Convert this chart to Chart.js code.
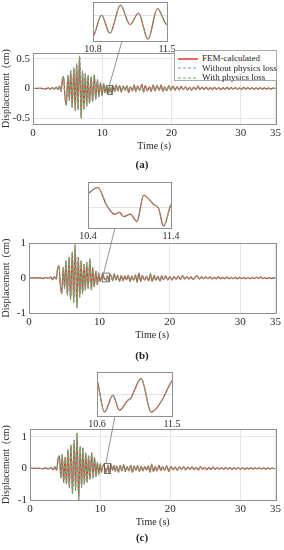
<!DOCTYPE html>
<html>
<head>
<meta charset="utf-8">
<script src="https://cdn.jsdelivr.net/npm/chart.js@4.4.1/dist/chart.umd.min.js"></script>
<style>
  body { margin: 0; width: 284px; height: 550px; position: relative; background: #fff; overflow: hidden; font-family: "Liberation Serif", serif; }
  canvas { position: absolute; }
  .cap { position: absolute; left: 0; width: 284px; text-align: center; font-weight: bold; font-size: 11px; color: #222; line-height: 12px; }
  #legend { position: absolute; left: 174px; top: 50px; width: 103px; height: 31px; border: 1px solid #aaa; background: #fff; font-size: 9px; color: #222; }
  #legend div { height: 9.5px; line-height: 9.5px; white-space: nowrap; }
  #legend svg { vertical-align: middle; margin: 0 4px 0 3px; }
</style>
</head>
<body>
<canvas id="mainA" width="284" height="550"></canvas>
<canvas id="mainB" width="284" height="550"></canvas>
<canvas id="mainC" width="284" height="550"></canvas>
<canvas id="zoomA"></canvas>
<canvas id="zoomB"></canvas>
<canvas id="zoomC"></canvas>
<div id="legend"></div>
<div class="cap" style="top:158px">(a)</div>
<div class="cap" style="top:349px">(b)</div>
<div class="cap" style="top:531px">(c)</div>
<script>
// Données (temps s, déplacement cm)
const femA = [
  [0,0],[1.2,0.003],[1.8,-0.005],[2.2,0.01],[2.5,-0.012],[2.8,0.015],[3.1,-0.01],[3.35,0.025],[3.6,-0.02],[3.85,0.04],[4.05,-0.05],
  [4.25,0.16],[4.4,0.2],[4.6,-0.12],[4.8,-0.28],[5.05,0.22],[5.25,-0.2],[5.45,0.3],[5.65,-0.32],[5.9,0.35],[6.1,-0.38],[6.3,0.42],
  [6.5,-0.36],[6.72,0.55],[6.95,-0.5],[7.15,0.3],[7.35,-0.35],[7.55,0.25],[7.75,-0.3],[7.95,0.22],[8.15,-0.25],[8.4,0.2],[8.6,-0.22],
  [8.85,0.23],[9.05,-0.18],[9.3,0.15],[9.5,-0.14],[9.75,0.1],[9.95,-0.12],[10.2,0.08],[10.4,-0.07],[10.6,0.05],
  [10.76,-0.095],[10.81,-0.076],[10.88,-0.001],[10.96,-0.07],[11.06,0.038],[11.15,-0.037],[11.23,0.007],[11.32,-0.093],[11.41,0.025],[11.5,-0.037],
  [11.6,0.04],[11.8,-0.05],[12.0,0.06],[12.25,-0.04],[12.5,0.05],[12.75,-0.06],[13.0,0.04],[13.3,-0.03],[13.55,0.05],[13.8,-0.07],
  [14.05,0.03],[14.35,-0.04],[14.6,0.06],[14.85,-0.05],[15.1,0.04],[15.4,-0.03],[15.7,0.07],[15.95,-0.06],[16.2,0.05],[16.5,-0.04],
  [16.8,0.03],[17.05,-0.05],[17.35,0.06],[17.6,-0.04],[17.9,0.05],[18.2,-0.03],[18.5,0.06],[18.75,-0.05],[19.0,0.03],[19.3,-0.04],
  [19.6,0.05],[19.9,-0.03],[20.2,0.04],[20.5,-0.03],[20.8,0.03],[21.1,-0.025],[21.4,0.035],[21.7,-0.02],[22.0,0.03],[22.3,-0.025],
  [22.6,0.02],[22.9,-0.03],[23.2,0.025],[23.5,-0.02],[23.8,0.04],[24.1,-0.02],[24.4,0.02],[24.7,-0.015],[25.0,0.02],[25.3,-0.02],
  [25.6,0.015],[25.9,-0.02],[26.2,0.02],[26.5,-0.015],[26.8,0.015],[27.1,-0.02],[27.4,0.015],[27.7,-0.015],[28.0,0.02],[28.3,-0.015],
  [28.6,0.015],[28.9,-0.01],[29.2,0.015],[29.5,-0.015],[29.8,0.01],[30.1,-0.015],[30.4,0.02],[30.7,-0.015],[31.0,0.015],[31.3,-0.01],
  [31.6,0.015],[31.9,-0.015],[32.2,0.01],[32.5,-0.01],[32.8,0.015],[33.1,-0.01],[33.4,0.01],[33.7,-0.01],[34.0,0.01],[34.3,-0.01],
  [34.6,0.005],[35,0]
];
const femB = [
  [0,0],[1.5,0.005],[2.0,-0.01],[2.4,0.015],[2.8,-0.01],[3.1,0.03],[3.35,-0.05],[3.6,0.04],[3.85,-0.03],[4.05,0.25],[4.25,0.35],
  [4.45,-0.2],[4.65,-0.45],[4.85,0.3],[5.05,-0.3],[5.25,0.5],[5.45,-0.5],[5.7,0.6],[5.9,-0.62],[6.15,0.75],[6.35,-0.7],[6.55,0.95],
  [6.8,-0.85],[7.0,0.6],[7.2,-0.55],[7.4,0.5],[7.6,-0.45],[7.8,0.4],[8.0,-0.35],[8.2,0.45],[8.4,-0.3],[8.65,0.55],[8.85,-0.35],
  [9.05,0.3],[9.25,-0.25],[9.5,0.2],[9.7,-0.2],[9.9,0.15],[10.1,-0.1],[10.3,0.03],
  [10.41,0.08],[10.52,0.11],[10.62,0.018],[10.72,-0.035],[10.78,-0.025],[10.83,-0.048],[10.91,-0.035],[10.99,-0.075],[11.07,0.068],
  [11.19,0.018],[11.25,-0.003],[11.31,-0.1],[11.4,0.018],
  [11.6,0.1],[11.85,-0.08],[12.1,0.12],[12.35,-0.06],[12.6,0.08],[12.85,-0.1],[13.1,0.07],[13.35,-0.08],[13.6,0.06],[13.85,-0.05],
  [14.1,0.08],[14.35,-0.1],[14.6,0.06],[14.85,-0.07],[15.1,0.09],[15.35,-0.12],[15.6,0.14],[15.85,-0.1],[16.1,0.07],[16.4,-0.06],
  [16.7,0.05],[17.0,-0.08],[17.25,0.12],[17.5,-0.1],[17.75,0.08],[18.0,-0.06],[18.3,0.05],[18.6,-0.09],[18.85,0.07],[19.1,-0.05],
  [19.4,0.06],[19.7,-0.05],[20.0,0.04],[20.3,-0.06],[20.6,0.04],[20.9,-0.03],[21.2,0.05],[21.5,-0.04],[21.8,0.07],[22.1,-0.03],
  [22.4,0.04],[22.7,-0.03],[23.0,0.03],[23.3,-0.04],[23.6,0.03],[23.9,0.06],[24.2,-0.03],[24.5,0.03],[24.8,-0.02],[25.1,0.03],
  [25.4,-0.02],[25.7,0.03],[26.0,-0.03],[26.3,0.02],[26.6,-0.02],[26.9,0.04],[27.2,-0.02],[27.5,0.02],[27.8,-0.02],[28.1,0.03],
  [28.4,-0.02],[28.7,0.02],[29.0,-0.015],[29.3,0.02],[29.6,-0.02],[29.9,0.02],[30.2,-0.015],[30.5,0.02],[30.8,-0.02],[31.1,0.015],
  [31.4,-0.02],[31.7,0.02],[32.0,-0.015],[32.3,0.02],[32.6,-0.01],[32.9,0.03],[33.2,-0.02],[33.5,0.015],[33.8,-0.01],[34.1,0.01],
  [34.4,-0.01],[34.7,0.005],[35,0]
];
const femC = [
  [0,0],[1.2,0.005],[1.8,-0.01],[2.2,0.02],[2.6,-0.015],[3.0,0.03],[3.3,-0.04],[3.55,0.05],[3.8,-0.06],[4.0,0.3],[4.2,0.4],
  [4.4,-0.3],[4.6,0.45],[4.8,-0.45],[5.0,0.35],[5.2,-0.5],[5.4,0.6],[5.6,-0.6],[5.85,0.75],[6.05,-0.8],[6.3,0.9],[6.5,-0.7],
  [6.7,1.12],[6.95,-1.0],[7.15,0.7],[7.35,-0.6],[7.55,0.65],[7.75,-0.5],[7.95,0.5],[8.15,-0.45],[8.35,0.4],[8.55,-0.35],[8.8,0.5],
  [9.0,-0.3],[9.2,0.35],[9.4,-0.25],[9.6,0.2],[9.8,-0.2],[10.0,0.15],[10.2,-0.12],[10.35,0.05],[10.52,0.14],
  [10.6,0.099],[10.69,-0.131],[10.79,-0.01],[10.87,-0.118],[10.97,-0.045],[11.0,-0.035],[11.13,0.112],[11.25,-0.131],[11.31,-0.106],
  [11.39,-0.035],[11.49,0.086],
  [11.56,0.12],[11.78,-0.06],[11.95,0.1],[12.15,-0.1],[12.35,0.08],[12.6,-0.12],[12.85,0.1],[13.1,-0.08],[13.35,0.12],[13.6,-0.1],
  [13.85,0.06],[14.1,-0.08],[14.35,0.1],[14.6,-0.12],[14.85,0.08],[15.1,-0.06],[15.35,0.09],[15.6,-0.1],[15.85,0.07],[16.1,-0.08],
  [16.35,0.06],[16.6,-0.05],[16.85,0.08],[17.1,-0.12],[17.35,0.14],[17.6,-0.1],[17.85,0.06],[18.1,-0.08],[18.4,0.1],[18.65,-0.07],
  [18.9,0.05],[19.2,-0.06],[19.5,0.08],[19.8,-0.1],[20.1,0.07],[20.4,-0.05],[20.7,0.04],[21.0,-0.06],[21.3,0.05],[21.6,-0.04],
  [21.9,0.06],[22.2,-0.05],[22.5,0.04],[22.8,-0.03],[23.1,0.05],[23.4,-0.04],[23.7,0.03],[24.0,-0.05],[24.3,0.06],[24.6,-0.03],
  [24.9,0.03],[25.2,-0.04],[25.5,0.03],[25.8,-0.03],[26.1,0.04],[26.4,-0.03],[26.7,0.03],[27.0,-0.03],[27.3,0.025],[27.6,-0.03],
  [27.9,0.03],[28.2,-0.025],[28.5,0.03],[28.8,-0.03],[29.1,0.025],[29.4,-0.02],[29.7,0.03],[30.0,-0.025],[30.3,0.02],[30.6,-0.025],
  [30.9,0.02],[31.2,-0.02],[31.5,0.025],[31.8,-0.02],[32.1,0.02],[32.4,-0.015],[32.7,0.03],[33.0,-0.02],[33.3,0.02],[33.6,-0.02],
  [33.9,0.015],[34.2,-0.015],[34.5,0.01],[34.8,-0.005],[35,0]
];

// Les prédictions se superposent à la courbe FEM sur la figure
const withoutA = femA, withA = femA;
const withoutB = femB, withB = femB;
const withoutC = femC, withC = femC;

const xTicks = [0, 10, 20, 30, 35];
const yTicksA = [-0.5, 0, 0.5];
const yTicksB = [-1, 0, 1];
const yTicksC = [-1, 0, 1];
const seriesNames = ["FEM-calculated", "Without physics loss", "With physics loss"];

const RED = "#e3342b";
const BLUE = "#6f9bd0";
const GREEN = "#6fae5a";
const GRID = "#e6e6e6";
const BOXC = "#8f8f8f";
const TXT = "#2a2a2a";
const FONT = "Liberation Serif";

const panels = [
  { key: "A", fem: femA, wo: withoutA, wi: withA, yMin: -0.6, yMax: 0.6, yTicks: yTicksA,
    win: [10.8, 11.5], winY: [-0.1, 0.05],
    plot: { left: 33, right: 276, top: 53, bottom: 124 },
    inset: { left: 93, right: 167, top: 2, bottom: 41 }, linkX: 122 },
  { key: "B", fem: femB, wo: withoutB, wi: withB, yMin: -1, yMax: 1, yTicks: yTicksB,
    win: [10.4, 11.4], winY: [-0.11, 0.14],
    plot: { left: 29, right: 276, top: 243, bottom: 313 },
    inset: { left: 88, right: 171, top: 182, bottom: 228 }, linkX: 115 },
  { key: "C", fem: femC, wo: withoutC, wi: withC, yMin: -1, yMax: 1.25, yTicks: yTicksC,
    win: [10.6, 11.5], winY: [-0.16, 0.16],
    plot: { left: 30, right: 276, top: 429, bottom: 500 },
    inset: { left: 97, right: 172, top: 372, bottom: 416 }, linkX: 115 }
];

const pts = arr => arr.map(([x, y]) => ({ x, y }));

// ordre : la courbe FEM dessous, les prédictions en pointillés par-dessus
function datasets(p) {
  return [
    { label: seriesNames[0], data: pts(p.fem), borderColor: RED, borderWidth: 1.2, order: 3 },
    { label: seriesNames[1], data: pts(p.wo), borderColor: BLUE, borderWidth: 1, borderDash: [3, 2], order: 2 },
    { label: seriesNames[2], data: pts(p.wi), borderColor: GREEN, borderWidth: 1, borderDash: [3, 2], order: 1 }
  ];
}

// Cadre autour de la zone de tracé
const boxPlugin = {
  id: "box",
  afterDatasetsDraw(chart) {
    const a = chart.chartArea, c = chart.ctx;
    c.save();
    c.strokeStyle = BOXC;
    c.lineWidth = 1;
    c.strokeRect(Math.round(a.left) + 0.5, Math.round(a.top) + 0.5, Math.round(a.right - a.left), Math.round(a.bottom - a.top));
    c.restore();
  }
};

// Rectangle de zoom + trait vers l'encart
const zoomMark = {
  id: "zoomMark",
  afterDraw(chart, args, opts) {
    const p = opts.panel;
    const xs = chart.scales.x, ys = chart.scales.y, c = chart.ctx;
    const x1 = xs.getPixelForValue(p.win[0]), x2 = xs.getPixelForValue(p.win[1]);
    const y1 = ys.getPixelForValue(p.winY[1]), y2 = ys.getPixelForValue(p.winY[0]);
    c.save();
    c.strokeStyle = "#555";
    c.lineWidth = 0.8;
    c.strokeRect(x1, y1, x2 - x1, y2 - y1);
    c.beginPath();
    c.moveTo(x1 + 1.5, y1);
    c.lineTo(p.linkX, p.inset.bottom);
    c.strokeStyle = "#777";
    c.stroke();
    c.restore();
  }
};

function mainChart(p) {
  const canvas = document.getElementById("main" + p.key);
  const xH = 28;
  return new Chart(canvas, {
    type: "line",
    data: { datasets: datasets(p) },
    options: {
      responsive: false,
      animation: false,
      events: [],
      elements: { point: { radius: 0 }, line: { cubicInterpolationMode: "monotone" } },
      layout: { padding: { left: 0, right: 284 - p.plot.right, top: p.plot.top, bottom: 550 - p.plot.bottom - xH } },
      plugins: { legend: { display: false }, tooltip: { enabled: false }, zoomMark: { panel: p } },
      scales: {
        x: {
          type: "linear", min: 0, max: 35,
          afterBuildTicks: s => { s.ticks = xTicks.map(v => ({ value: v })); },
          afterFit: s => { s.height = xH; },
          grid: { color: GRID, drawTicks: false },
          border: { display: false },
          ticks: { padding: 3, color: TXT, font: { family: FONT, size: 11 }, maxRotation: 0, autoSkip: false },
          title: { display: true, text: "Time (s)", color: TXT, font: { family: FONT, size: 10 }, padding: 0 }
        },
        y: {
          min: p.yMin, max: p.yMax,
          afterBuildTicks: s => { s.ticks = p.yTicks.map(v => ({ value: v })); },
          afterFit: s => { s.width = p.plot.left; },
          grid: { color: GRID, drawTicks: false },
          border: { display: false },
          ticks: { padding: 3, color: TXT, font: { family: FONT, size: 11 } },
          title: { display: true, text: "Displacement  (cm)", color: TXT, font: { family: FONT, size: 10 }, padding: 0 }
        }
      }
    },
    plugins: [boxPlugin, zoomMark]
  });
}

function insetChart(p) {
  const canvas = document.getElementById("zoom" + p.key);
  const side = 16, xH = 14;
  const w = p.inset.right - p.inset.left + 2 * side;
  const h = p.inset.bottom - p.inset.top + xH;
  canvas.width = w;
  canvas.height = h;
  canvas.style.left = (p.inset.left - side) + "px";
  canvas.style.top = p.inset.top + "px";
  return new Chart(canvas, {
    type: "line",
    data: { datasets: datasets(p) },
    options: {
      responsive: false,
      animation: false,
      events: [],
      elements: { point: { radius: 0 }, line: { cubicInterpolationMode: "monotone" } },
      layout: { padding: { left: side, right: side, top: 0, bottom: 0 } },
      plugins: { legend: { display: false }, tooltip: { enabled: false } },
      scales: {
        x: {
          type: "linear", min: p.win[0], max: p.win[1],
          afterBuildTicks: s => { s.ticks = p.win.map(v => ({ value: v })); },
          afterFit: s => { s.height = xH; },
          grid: { display: false, drawTicks: false },
          border: { display: false },
          ticks: { padding: 2, color: TXT, font: { family: FONT, size: 10 }, maxRotation: 0, autoSkip: false }
        },
        y: {
          min: p.winY[0], max: p.winY[1],
          afterFit: s => { s.width = 0; },
          grid: { color: "#dcdcdc", drawTicks: false, lineWidth: 0.8 },
          border: { display: false },
          ticks: { display: false, maxTicksLimit: 5 }
        }
      }
    },
    plugins: [boxPlugin]
  });
}

panels.forEach(p => { mainChart(p); insetChart(p); });

// Légende du panneau (a)
const legendStyles = [
  { color: RED, dash: "", width: 1.5 },
  { color: BLUE, dash: "3,2", width: 1 },
  { color: GREEN, dash: "3,2", width: 1 }
];
const legend = document.getElementById("legend");
legend.style.paddingTop = "3px";
legend.style.boxSizing = "border-box";
seriesNames.forEach((name, i) => {
  const st = legendStyles[i];
  const row = document.createElement("div");
  row.innerHTML = '<svg width="20" height="4"><line x1="0" y1="2" x2="20" y2="2" stroke="' + st.color +
    '" stroke-width="' + st.width + '" stroke-dasharray="' + st.dash + '"/></svg>' + name;
  legend.appendChild(row);
});
</script>
</body>
</html>
